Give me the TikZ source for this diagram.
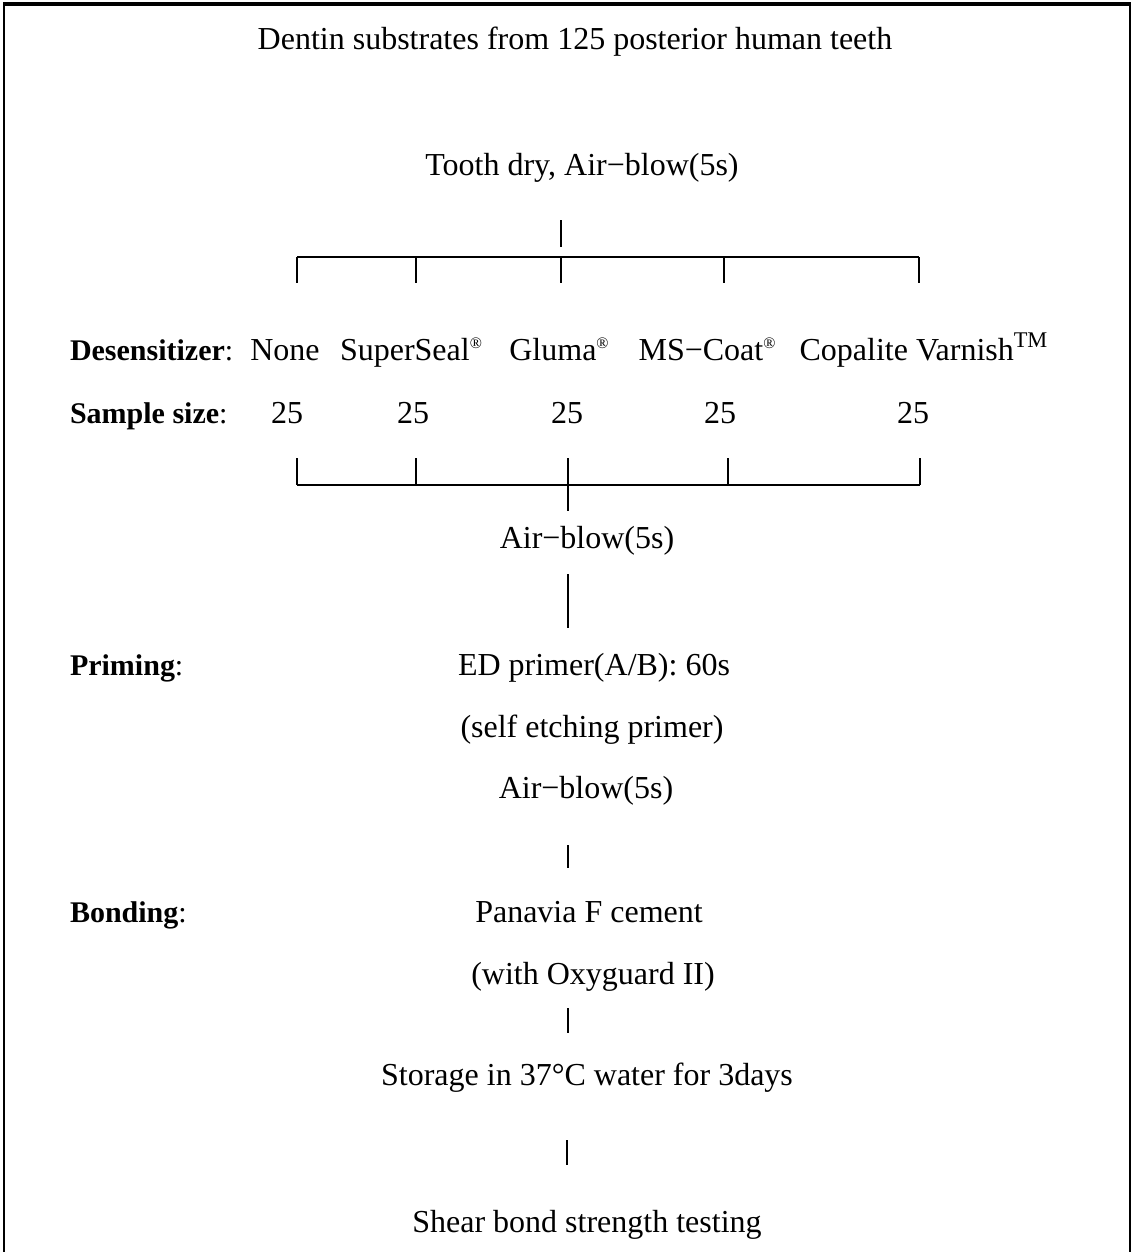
\documentclass[tikz,border=0pt]{standalone}
\usepackage{fontspec}
\setmainfont{Liberation Serif}
\usepackage{tkz-graph}
\usetikzlibrary{arrows}
\newcommand{\regmark}{\raisebox{0.75ex}{\fontsize{8}{8}\selectfont ®}}

\begin{document}
\begin{tikzpicture}[x = 0.5pt, y = -0.5pt, font=\rmfamily]
	\tikzstyle{VertexStyle} = []
	\tikzstyle{EdgeStyle} = []
	\tikzstyle{textStyle}=[anchor = base, inner sep = 0pt, font = \fontsize{16}{19}\selectfont]
	\tikzstyle{headStyle}=[anchor = base west, inner sep = 0pt, font = \fontsize{15}{18}\selectfont]
	\tikzstyle{pointStyle}=[shape = coordinate]
	\tikzstyle{barStyle}=[line width = 1.3pt]
	\tikzstyle{tickStyle}=[line width = 0.9pt]
	\useasboundingbox (0,0) rectangle (1132,1252);
	\draw[line width = 1pt] (4,1252) -- (4,4) -- (1130,4) -- (1130,1252);
	\draw[line width = 1.6pt] (3,4) -- (1131,4);
	\Vertex[style = textStyle, x = 575, y = 50, L = {Dentin substrates from 125 posterior human teeth}]{dentin}
	\Vertex[style = textStyle, x = 582, y = 176, L = {Tooth dry, Air−blow(5s)}]{dry}
	\Vertex[style = headStyle, x = 70, y = 360, L = {{\bfseries Desensitizer}:}]{hdes}
	\Vertex[style = headStyle, x = 70, y = 423, L = {{\bfseries Sample size}:}]{hsize}
	\Vertex[style = headStyle, x = 70, y = 675, L = {{\bfseries Priming}:}]{hprime}
	\Vertex[style = headStyle, x = 70, y = 922, L = {{\bfseries Bonding}:}]{hbond}
	\Vertex[style = textStyle, x = 285, y = 360, L = {None}]{none}
	\Vertex[style = textStyle, x = 411, y = 360, L = {SuperSeal\regmark}]{superseal}
	\Vertex[style = textStyle, x = 559, y = 360, L = {Gluma\regmark}]{gluma}
	\Vertex[style = textStyle, x = 707, y = 360, L = {MS−Coat\regmark}]{mscoat}
	\Vertex[style = textStyle, x = 924, y = 360, L = {Copalite Varnish\textsuperscript{TM}}]{copalite}
	\Vertex[style = textStyle, x = 287, y = 423, L = {25}]{n1}
	\Vertex[style = textStyle, x = 413, y = 423, L = {25}]{n2}
	\Vertex[style = textStyle, x = 567, y = 423, L = {25}]{n3}
	\Vertex[style = textStyle, x = 720, y = 423, L = {25}]{n4}
	\Vertex[style = textStyle, x = 913, y = 423, L = {25}]{n5}
	\Vertex[style = textStyle, x = 587, y = 548, L = {Air−blow(5s)}]{blowa}
	\Vertex[style = textStyle, x = 594, y = 675, L = {ED primer(A/B): 60s}]{primer}
	\Vertex[style = textStyle, x = 592, y = 737, L = {(self etching primer)}]{selfetch}
	\Vertex[style = textStyle, x = 586, y = 798, L = {Air−blow(5s)}]{blowb}
	\Vertex[style = textStyle, x = 589, y = 922, L = {Panavia F cement}]{panavia}
	\Vertex[style = textStyle, x = 593, y = 984, L = {(with Oxyguard II)}]{oxyguard}
	\Vertex[style = textStyle, x = 587, y = 1085, L = {Storage in 37°C water for 3days}]{storage}
	\Vertex[style = textStyle, x = 587, y = 1232, L = {Shear bond strength testing}]{shear}
	\Vertex[style = pointStyle, x = 561, y = 220]{s0}
	\Vertex[style = pointStyle, x = 561, y = 247]{s1}
	\Vertex[style = pointStyle, x = 297, y = 257]{a1}
	\Vertex[style = pointStyle, x = 416, y = 257]{a2}
	\Vertex[style = pointStyle, x = 561, y = 257]{a3}
	\Vertex[style = pointStyle, x = 724, y = 257]{a4}
	\Vertex[style = pointStyle, x = 919, y = 257]{a5}
	\Vertex[style = pointStyle, x = 297, y = 283]{b1}
	\Vertex[style = pointStyle, x = 416, y = 283]{b2}
	\Vertex[style = pointStyle, x = 561, y = 283]{b3}
	\Vertex[style = pointStyle, x = 724, y = 283]{b4}
	\Vertex[style = pointStyle, x = 919, y = 283]{b5}
	\Vertex[style = pointStyle, x = 297, y = 458]{c1}
	\Vertex[style = pointStyle, x = 416, y = 458]{c2}
	\Vertex[style = pointStyle, x = 568, y = 458]{c3}
	\Vertex[style = pointStyle, x = 728, y = 458]{c4}
	\Vertex[style = pointStyle, x = 920, y = 458]{c5}
	\Vertex[style = pointStyle, x = 297, y = 485]{d1}
	\Vertex[style = pointStyle, x = 416, y = 485]{d2}
	\Vertex[style = pointStyle, x = 568, y = 485]{d3}
	\Vertex[style = pointStyle, x = 728, y = 485]{d4}
	\Vertex[style = pointStyle, x = 920, y = 485]{d5}
	\Vertex[style = pointStyle, x = 568, y = 511]{d0}
	\Vertex[style = pointStyle, x = 568, y = 574]{p1}
	\Vertex[style = pointStyle, x = 568, y = 628]{q1}
	\Vertex[style = pointStyle, x = 568, y = 845]{p2}
	\Vertex[style = pointStyle, x = 568, y = 868]{q2}
	\Vertex[style = pointStyle, x = 568, y = 1008]{p3}
	\Vertex[style = pointStyle, x = 568, y = 1033]{q3}
	\Vertex[style = pointStyle, x = 567, y = 1140]{p4}
	\Vertex[style = pointStyle, x = 567, y = 1165]{q4}
	\Edge[style = tickStyle, labelstyle={fill=none}](s0)(s1)
	\Edge[style = barStyle, labelstyle={fill=none}](a1)(a5)
	\Edge[style = tickStyle, labelstyle={fill=none}](a1)(b1)
	\Edge[style = tickStyle, labelstyle={fill=none}](a2)(b2)
	\Edge[style = tickStyle, labelstyle={fill=none}](a3)(b3)
	\Edge[style = tickStyle, labelstyle={fill=none}](a4)(b4)
	\Edge[style = tickStyle, labelstyle={fill=none}](a5)(b5)
	\Edge[style = tickStyle, labelstyle={fill=none}](c1)(d1)
	\Edge[style = tickStyle, labelstyle={fill=none}](c2)(d2)
	\Edge[style = tickStyle, labelstyle={fill=none}](c3)(d3)
	\Edge[style = tickStyle, labelstyle={fill=none}](c4)(d4)
	\Edge[style = tickStyle, labelstyle={fill=none}](c5)(d5)
	\Edge[style = barStyle, labelstyle={fill=none}](d1)(d5)
	\Edge[style = tickStyle, labelstyle={fill=none}](d3)(d0)
	\Edge[style = tickStyle, labelstyle={fill=none}](p1)(q1)
	\Edge[style = tickStyle, labelstyle={fill=none}](p2)(q2)
	\Edge[style = tickStyle, labelstyle={fill=none}](p3)(q3)
	\Edge[style = tickStyle, labelstyle={fill=none}](p4)(q4)
\end{tikzpicture}
\end{document}
